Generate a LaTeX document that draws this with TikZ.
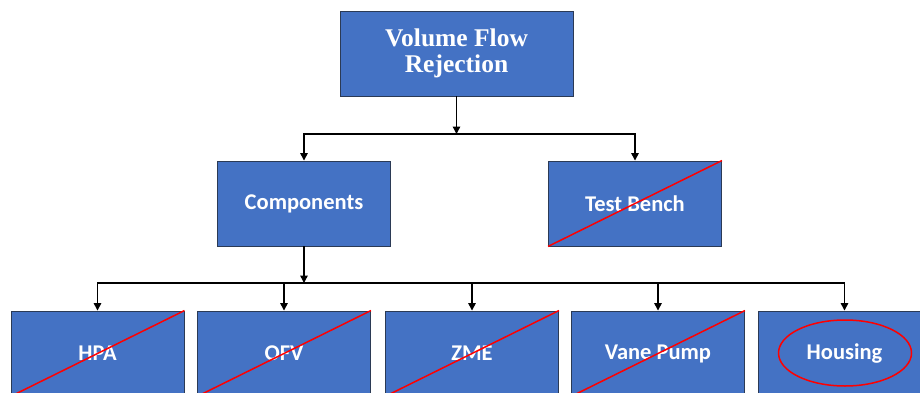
\documentclass[tikz,border=0pt]{standalone}
\usepackage{fontspec}
\setmainfont{Liberation Serif}
\newfontfamily\boxfont{Carlito}
\usetikzlibrary{arrows.meta,shapes.geometric}
\definecolor{boxblue}{HTML}{4472C4}
\definecolor{boxedge}{HTML}{2B3A55}
\tikzset{
  blk/.style={draw=boxedge,line width=0.9pt,fill=boxblue,text=white,minimum width=173pt,minimum height=85pt,inner sep=0pt,font=\boxfont\bfseries\fontsize{22.5}{26}\selectfont},
  topblk/.style={blk,minimum width=233pt,font=\bfseries\fontsize{25.5}{26}\selectfont,align=center},
  arr/.style={line width=1.4pt,-{Triangle[width=7.5pt,length=7.5pt]}},
  strike/.style={red,line width=1.5pt},
}
\begin{document}
\begin{tikzpicture}[x=1pt,y=-1pt]
\useasboundingbox (0,0) rectangle (920,393);
\clip (0,0) rectangle (920,393);
\node[topblk] (top) at (456.5,53.5) {Volume Flow\\Rejection};
\node[blk] (comp) at (304,203.5) {Components};
\node[blk] (test) at (635,203.5) {Test Bench};
\node[blk] (hpa) at (97.5,353.5) {HPA};
\node[blk] (ofv) at (284,353.5) {OFV};
\node[blk] (zme) at (472,353.5) {ZME};
\node[blk] (vane) at (658,353.5) {Vane Pump};
\node[blk] (hous) at (844.5,353.5) {Housing};
\foreach \b in {test,hpa,ofv,zme,vane}
  \draw[strike] (\b.south west) -- (\b.north east);
\node[draw=red,line width=1.5pt,ellipse,minimum width=133pt,minimum height=66pt] (ring) at (845,353) {};
\coordinate (j1) at (456.5,134);
\coordinate (j2) at (304,283);
\draw[arr] (top.south) -- (j1);
\draw[arr] (j1) -| (comp.north);
\draw[arr] (j1) -| (test.north);
\draw[arr] (comp.south) -- (j2);
\foreach \b in {hpa,ofv,zme,vane,hous}
  \draw[arr] (j2) -| (\b.north);
\end{tikzpicture}
\end{document}
